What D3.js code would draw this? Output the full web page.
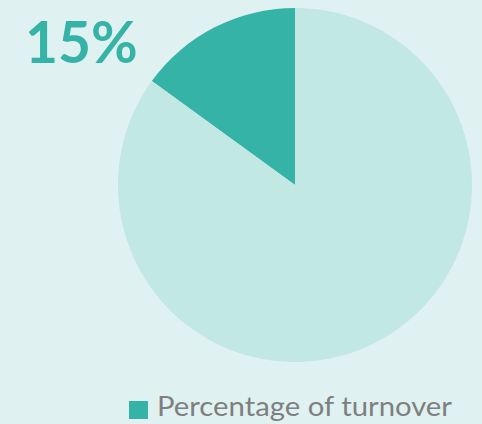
<!DOCTYPE html>
<html>
<head>
<meta charset="utf-8">
<script src="https://cdn.jsdelivr.net/npm/d3@7"></script>
<style>
  html, body { margin: 0; padding: 0; background: #e0f1f1; }
  svg { display: block; }
</style>
</head>
<body>
<svg id="chart"></svg>
<script>
// ----- Data -----
const labels = ["Percentage of turnover", "Rest"];
const values = [15, 85];
const colors = ["#35b3a7", "#c1e8e3"];
const bigLabel = "15%";

// ----- Constants -----
const size = { width: 482, height: 424 };
const center = { x: 295, y: 185 },
      radius = 177;

const svg = d3.select("#chart")
    .attr("width", size.width)
    .attr("height", size.height);

svg.append("rect")
    .attr("width", size.width)
    .attr("height", size.height)
    .attr("fill", "#e0f1f1");

// ----- Pie (counter-clockwise from 12 o'clock) -----
const pie = d3.pie().sort(null).value(d => d)
    .startAngle(0).endAngle(-2 * Math.PI);
const arc = d3.arc().innerRadius(0).outerRadius(radius);
const color = d3.scaleOrdinal().domain(d3.range(values.length)).range(colors);

svg.append("g")
    .attr("transform", `translate(${center.x},${center.y})`)
    .selectAll("path")
    .data(pie(values))
    .join("path")
    .attr("d", arc)
    .attr("fill", (d, i) => color(i));

// ----- Big label -----
svg.append("text")
    .attr("x", 25)
    .attr("y", 63)
    .attr("font-family", "Lato, 'Open Sans', sans-serif")
    .attr("font-weight", "bold")
    .attr("font-size", 57)
    .attr("fill", colors[0])
    .text(bigLabel);

// ----- Legend -----
const legend = svg.append("g").attr("transform", "translate(129,401)");
legend.append("rect")
    .attr("width", 19)
    .attr("height", 18)
    .attr("fill", colors[0]);
legend.append("text")
    .attr("x", 28)
    .attr("y", 15)
    .attr("font-family", "Lato, 'Open Sans', sans-serif")
    .attr("font-size", 26)
    .attr("textLength", 295)
    .attr("lengthAdjust", "spacingAndGlyphs")
    .attr("fill", "#7f7f7f")
    .text(labels[0]);
</script>
</body>
</html>
